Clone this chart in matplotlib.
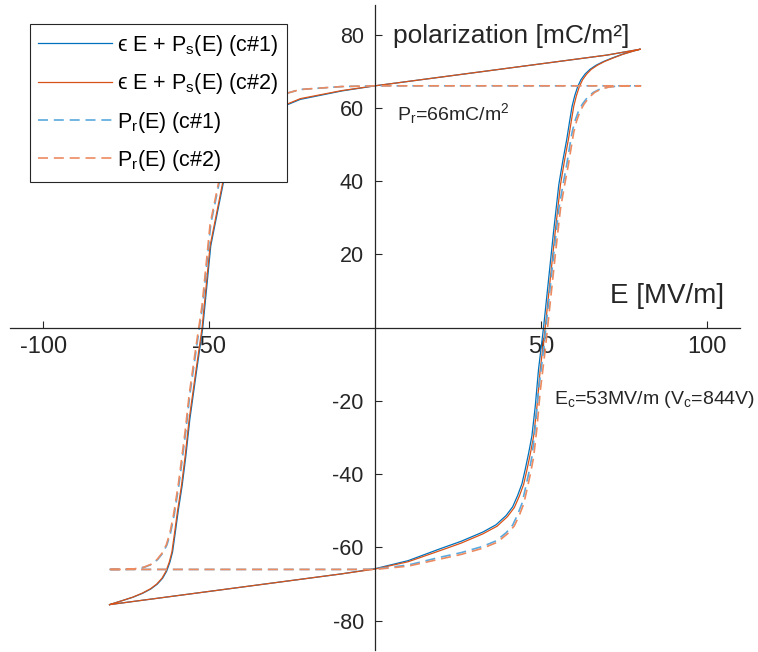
import matplotlib
matplotlib.use("Agg")
from matplotlib import pyplot as plt

# 字体
plt.rcParams['font.family'] = ['Liberation Sans', 'DejaVu Sans']
plt.rcParams['mathtext.fontset'] = 'custom'
plt.rcParams['mathtext.rm'] = 'Liberation Sans'
plt.rcParams['mathtext.it'] = 'Liberation Sans:italic'
plt.rcParams['axes.unicode_minus'] = False

# 数据
# c#1, eps*E + Ps(E): 下支 (E 增大) + 上支 (E 减小)
E1_lo = [-80, -70, -60, -50, -40, -30, -20, -10, 0, 10, 19.5, 26, 32.5, 36.5, 39.5,
         41.5, 43, 44.3, 45.3, 46.3, 47.3, 48.3, 49.3, 50.8, 52.3, 53.8, 55.4, 56.6,
         57.8, 58.6, 59.4, 60.2, 61.1, 62.1, 63.3, 64.8, 66.6, 68.8, 71.5, 74.5, 77.5, 80]
P1_lo = [-75.6, -74.4, -73.2, -72.0, -70.8, -69.6, -68.4, -67.2, -65.8, -63.6, -60.4,
         -58.3, -55.8, -53.8, -51.3, -48.9, -45.8, -42.6, -38.6, -34.3, -29.5, -21.5,
         -11.3, 0, 13, 26, 39, 45.5, 51.4, 56, 60.4, 63.3, 65.8, 67.7, 69.2, 70.5, 71.6,
         72.6, 73.6, 74.6, 75.4, 76]
E1_up = [80, 70, 60, 50, 40, 30, 20, 10, 0, -10, -22.5, -30, -36, -40, -43, -45.6,
         -47.5, -49.5, -51.9, -53.8, -55.8, -57, -58.1, -59.3, -60.2, -61, -61.8,
         -62.8, -64, -65.6, -67.5, -70, -73, -76.5, -80]
P1_up = [76, 74.4, 73.2, 72, 70.8, 69.6, 68.4, 67.2, 66, 64.6, 62.3, 59.5, 56, 52.5,
         47.5, 40, 31.4, 22.3, 0, -12, -25, -35, -43, -50, -56, -61.2, -64, -66.5,
         -68.4, -70, -71.3, -72.5, -73.6, -74.6, -75.6]

# c#2, eps*E + Ps(E)
E2_lo = [-80, -70, -60, -50, -40, -30, -20, -10, 0, 10, 19.5, 26, 32.5, 36.8, 39.9,
         42, 43.5, 44.8, 45.8, 46.8, 47.8, 48.8, 49.8, 51.3, 52.8, 54.3, 55.9, 57.1,
         58.3, 59.1, 59.9, 60.7, 61.6, 62.6, 63.8, 65.2, 67, 69.1, 71.8, 74.7, 77.6, 80]
P2_lo = [-75.6, -74.4, -73.2, -72.0, -70.8, -69.6, -68.4, -67.2, -65.9, -63.9, -60.9,
         -58.8, -56.3, -54.2, -51.6, -49.1, -46, -42.8, -38.8, -34.5, -29.7, -21.7,
         -11.5, 0, 13, 26, 39, 45.5, 51.4, 56, 60.4, 63.3, 65.8, 67.7, 69.2, 70.5, 71.6,
         72.6, 73.6, 74.6, 75.4, 76]
E2_up = [80, 70, 60, 50, 40, 30, 20, 10, 0, -10, -22.5, -30, -36, -40, -43.2, -45.8,
         -47.7, -49.7, -52.1, -54, -56, -57.2, -58.3, -59.5, -60.4, -61.2, -62,
         -63, -64.2, -65.8, -67.7, -70.2, -73.1, -76.5, -80]
P2_up = [76, 74.4, 73.2, 72, 70.8, 69.6, 68.4, 67.2, 66, 64.7, 62.5, 59.7, 56.2, 52.7,
         47.5, 40, 31.4, 22.3, 0, -12, -25, -35, -43, -50, -56, -61.2, -64, -66.5,
         -68.4, -70, -71.3, -72.5, -73.6, -74.6, -75.6]

# c#1, Pr(E)
R1_E_lo = [-80, -40, -5, 0, 10, 19.5, 26, 32.5, 36.5, 39.5, 41.5, 43, 44.3, 45.3,
           46.3, 47.3, 48.3, 49.3, 50.8, 52.3, 53.8, 55.4, 56.6, 57.8, 58.6, 59.4,
           60.3, 61.3, 62.5, 64, 65.8, 68, 70.5, 73.5, 76, 80]
R1_P_lo = [-66, -66, -66, -65.9, -64.8, -62.7, -61.4, -59.7, -58.2, -56, -53.9, -51,
           -48, -44, -39.9, -35.2, -27.3, -17.2, -6.1, 6.7, 19.5, 32.4, 38.7, 44.5,
           49, 53.3, 56.5, 59, 61, 62.8, 64.2, 65.2, 65.7, 65.95, 66, 66]
R1_E_up = [80, 40, 5, 0, -10, -22.5, -30, -36, -40, -43, -45.6, -47.5, -49.5, -51.9,
           -53.8, -55.8, -57, -58.1, -59.1, -60.5, -61.6, -62.7, -64, -65.5, -67.3,
           -69.5, -72.5, -76, -80]
R1_P_up = [66, 66, 66, 66, 65.8, 65, 63.1, 60.3, 57.3, 52.7, 45.5, 37.1, 28.2, 6.2,
           -5.5, -18.3, -28.2, -36, -43, -51, -56, -59.3, -61.6, -63.3, -64.6, -65.4,
           -65.85, -66, -66]

# c#2, Pr(E)
R2_E_lo = [-80, -40, -5, 0, 10, 19.5, 26, 32.5, 36.8, 39.9, 42, 43.5, 44.8, 45.8,
           46.8, 47.8, 48.8, 49.8, 51.3, 52.8, 54.3, 55.9, 57.1, 58.3, 59.1, 59.9,
           60.8, 61.8, 63, 64.5, 66.2, 68.3, 70.8, 73.7, 76.2, 80]
R2_P_lo = [-66, -66, -66, -66, -65.1, -63.2, -61.9, -60.2, -58.6, -56.3, -54.1, -51.2,
           -48.2, -44.2, -40.1, -35.4, -27.5, -17.4, -6.1, 6.7, 19.5, 32.4, 38.7, 44.5,
           49, 53.3, 56.5, 59, 61, 62.8, 64.2, 65.2, 65.7, 65.95, 66, 66]
R2_E_up = [80, 40, 5, 0, -10, -22.5, -30, -36, -40, -43.2, -45.8, -47.7, -49.7, -52.1,
           -54, -56, -57.2, -58.3, -59.3, -60.7, -61.8, -62.9, -64.2, -65.7, -67.5,
           -69.7, -72.6, -76, -80]
R2_P_up = [66, 66, 66, 66, 65.8, 65, 63.1, 60.3, 57.3, 52.7, 45.5, 37.1, 28.2, 6.2,
           -5.5, -18.3, -28.2, -36, -43, -51, -56, -59.3, -61.6, -63.3, -64.6, -65.4,
           -65.85, -66, -66]

x_ticks = [-100, -50, 50, 100]
y_ticks = [-80, -60, -40, -20, 20, 40, 60, 80]

labels = ['\u03f5 E + P$_\\mathrm{s}$(E) (c#1)', '\u03f5 E + P$_\\mathrm{s}$(E) (c#2)',
          'P$_\\mathrm{r}$(E) (c#1)', 'P$_\\mathrm{r}$(E) (c#2)']

blue = '#0072BD'
orange = '#D95319'
blue_l = '#5aa9de'
orange_l = '#ec8a60'
txt = '#262626'

fig = plt.figure(figsize=(7.58, 6.52), dpi=100)
ax = fig.add_axes([0.0132, 0.003, 0.963, 0.989])

ax.plot(E1_lo + E1_up, P1_lo + P1_up, color=blue, lw=0.9, label=labels[0])
ax.plot(E2_lo + E2_up, P2_lo + P2_up, color=orange, lw=0.9, label=labels[1])
ax.plot(R1_E_lo + R1_E_up, R1_P_lo + R1_P_up, color=blue_l, lw=1.2,
        ls=(0, (6, 3.5)), label=labels[2])
ax.plot(R2_E_lo + R2_E_up, R2_P_lo + R2_P_up, color=orange_l, lw=1.2,
        ls=(0, (6, 3.5)), label=labels[3])

ax.set_xlim(-110, 110)
ax.set_ylim(-88, 88)

for s in ['top', 'right']:
    ax.spines[s].set_visible(False)
for s in ['left', 'bottom']:
    ax.spines[s].set_position(('data', 0))
    ax.spines[s].set_color(txt)
    ax.spines[s].set_linewidth(0.9)

ax.set_xticks(x_ticks)
ax.set_yticks(y_ticks)
ax.tick_params(direction='in', length=5, width=0.8, colors=txt)
ax.tick_params(axis='x', labelsize=17, pad=6)
ax.tick_params(axis='y', labelsize=15.5, pad=8)

ax.text(5.4, 79.7, 'polarization [mC/m²]', fontsize=19, color=txt, va='center')
ax.text(70.8, 8.6, 'E [MV/m]', fontsize=20, color=txt, va='center')
ax.text(6.5, 58.5, 'P$_\\mathrm{r}$=66mC/m$^2$', fontsize=14, color=txt, va='center')
ax.text(54, -19.5, 'E$_\\mathrm{c}$=53MV/m (V$_\\mathrm{c}$=844V)', fontsize=14,
        color=txt, va='center')

leg = ax.legend(loc='upper left', bbox_to_anchor=(0.027, 0.9705), fontsize=15.5,
                handlelength=3.4, handletextpad=0.25, frameon=True, fancybox=False,
                framealpha=1, borderaxespad=0, labelspacing=0.62, borderpad=0.4)
leg.get_frame().set_edgecolor(txt)
leg.get_frame().set_linewidth(0.8)

plt.savefig("out.png", dpi=100)
